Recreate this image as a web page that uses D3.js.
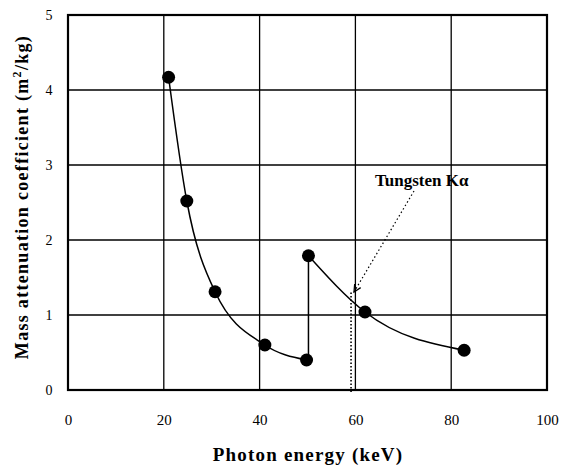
<!DOCTYPE html>
<html><head><meta charset="utf-8">
<script src="https://cdn.jsdelivr.net/npm/d3@7"></script>
<style>body{margin:0;background:#fff}</style>
</head><body>
<svg id="c" width="563" height="467"></svg>
<script>
const xTicks = [0, 20, 40, 60, 80, 100];
const yTicks = [0, 1, 2, 3, 4, 5];
const seg1Energy = [21.0, 24.8, 30.7, 41.1, 49.8];
const seg1Coef   = [4.17, 2.52, 1.31, 0.60, 0.40];
const seg2Energy = [50.2, 62.0, 82.7];
const seg2Coef   = [1.79, 1.04, 0.53];
const kAlphaEnergy = 59.3;
const labelText = "Tungsten K\u03b1";

const svg = d3.select("#c");
const L = 68, R = 547, T = 15, B = 390;
const x = d3.scaleLinear().domain([0, 100]).range([L, R]);
const y = d3.scaleLinear().domain([0, 5]).range([B, T]);
const serif = "'Liberation Serif','Times New Roman',serif";

// grid
svg.append("g").selectAll("line").data(xTicks).join("line")
  .attr("x1", d => x(d)).attr("x2", d => x(d)).attr("y1", T).attr("y2", B)
  .attr("stroke", "#000").attr("stroke-width", 1.3);
svg.append("g").selectAll("line").data(yTicks).join("line")
  .attr("y1", d => y(d)).attr("y2", d => y(d)).attr("x1", L).attr("x2", R)
  .attr("stroke", "#000").attr("stroke-width", 1.3);
svg.append("rect").attr("x", L).attr("y", T).attr("width", R - L).attr("height", B - T)
  .attr("fill", "none").attr("stroke", "#000").attr("stroke-width", 2.2);

// axes labels via d3 axes
const xAxis = svg.append("g").attr("transform", `translate(0,${B + 24})`)
  .call(d3.axisBottom(x).tickValues(xTicks).tickFormat(d3.format("d")).tickSize(0).tickPadding(0));
xAxis.select(".domain").remove();
xAxis.selectAll("text").attr("font-family", serif).attr("font-size", 15).attr("fill", "#000");

const yAxis = svg.append("g").attr("transform", `translate(49,0)`)
  .call(d3.axisLeft(y).tickValues(yTicks).tickFormat(d3.format("d")).tickSize(0).tickPadding(0));
yAxis.select(".domain").remove();
yAxis.selectAll("text").attr("font-family", serif).attr("font-size", 14).attr("fill", "#000")
  .attr("text-anchor", "middle");

// titles
svg.append("text").attr("x", 308).attr("y", 461).attr("text-anchor", "middle")
  .attr("font-family", serif).attr("font-weight", "bold").attr("font-size", 19)
  .attr("letter-spacing", 1.2).text("Photon energy (keV)");
const yt = svg.append("text").attr("transform", `translate(28,197) rotate(-90)`)
  .attr("text-anchor", "middle").attr("font-family", serif).attr("font-weight", "bold")
  .attr("font-size", 18).attr("letter-spacing", 1.3);
yt.append("tspan").text("Mass attenuation coefficient (m");
yt.append("tspan").attr("dy", -7).attr("font-size", 12).text("2");
yt.append("tspan").attr("dy", 7).text("/kg)");

// curves
const line = d3.line().x(d => x(d[0])).y(d => y(d[1])).curve(d3.curveMonotoneX);
const s1 = d3.zip(seg1Energy, seg1Coef);
const s2 = d3.zip(seg2Energy, seg2Coef);
svg.append("path").attr("d", line(s1)).attr("fill", "none").attr("stroke", "#000").attr("stroke-width", 1.5);
svg.append("path").attr("d", line(s2)).attr("fill", "none").attr("stroke", "#000").attr("stroke-width", 1.5);
// absorption edge jump (vertical)
svg.append("line").attr("x1", x(seg2Energy[0])).attr("x2", x(seg2Energy[0]))
  .attr("y1", y(seg1Coef[4])).attr("y2", y(seg2Coef[0])).attr("stroke", "#000").attr("stroke-width", 1.5);

// points
svg.append("g").selectAll("circle").data(s1.concat(s2)).join("circle")
  .attr("cx", d => x(d[0])).attr("cy", d => y(d[1])).attr("r", 6.5).attr("fill", "#000");

// K-alpha dotted vertical line
svg.append("line").attr("x1", x(kAlphaEnergy) - 1).attr("x2", x(kAlphaEnergy) - 1)
  .attr("y1", y(1.3)).attr("y2", B + 4).attr("stroke", "#000").attr("stroke-width", 1.6)
  .attr("stroke-dasharray", "1.5,2");

// label + arrow
svg.append("text").attr("x", 375).attr("y", 186).attr("font-family", serif)
  .attr("font-weight", "bold").attr("font-size", 17).text(labelText);
const ax0 = 414, ay0 = 191, ax1 = 354, ay1 = 292;
svg.append("line").attr("x1", ax0).attr("y1", ay0).attr("x2", ax1).attr("y2", ay1)
  .attr("stroke", "#000").attr("stroke-width", 1.2).attr("stroke-dasharray", "1.5,2.5");
const ang = Math.atan2(ay0 - ay1, ax0 - ax1);
const hl = 8, spread = 0.45;
svg.append("path").attr("d",
  `M${ax1 + hl * Math.cos(ang - spread)},${ay1 + hl * Math.sin(ang - spread)} L${ax1},${ay1} L${ax1 + hl * Math.cos(ang + spread)},${ay1 + hl * Math.sin(ang + spread)}`)
  .attr("fill", "none").attr("stroke", "#000").attr("stroke-width", 1.3);
</script>
</body></html>
